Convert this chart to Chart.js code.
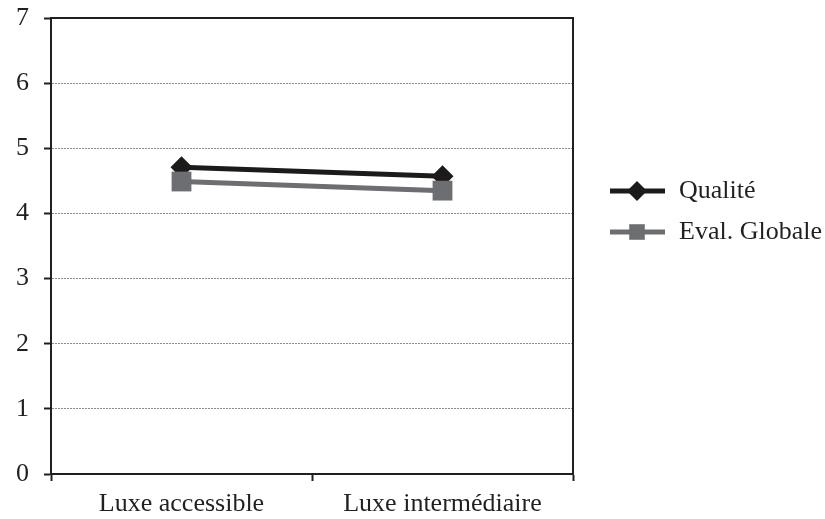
<!DOCTYPE html>
<html lang="fr">
<head>
    <meta charset="UTF-8">
    <title>Qualité / Eval. Globale</title>
    <style>
        body { margin: 0; background: #fff; }
        #wrap { width: 825px; height: 519px; position: relative; }
    </style>
    <script src="https://cdn.jsdelivr.net/npm/chart.js@4.4.0/dist/chart.umd.min.js"></script>
</head>
<body>
    <div id="wrap">
        <canvas id="line-chart" width="825" height="519"></canvas>
    </div>
    <script>
        // donnees
        const categories = ['Luxe accessible', 'Luxe intermédiaire'];
        const qualite = [4.71, 4.57];
        const evalGlobale = [4.49, 4.35];
        const yTicks = [0, 1, 2, 3, 4, 5, 6, 7];

        const FONT = '"Liberation Serif", "Times New Roman", serif';
        const INK = '#231f20';

        // cadre autour de la zone du graphique + legende a droite
        const framePlugin = {
            id: 'frame',
            afterDraw(chart) {
                const ctx = chart.ctx;
                const a = chart.chartArea;
                ctx.save();
                ctx.strokeStyle = INK;
                ctx.lineWidth = 2;
                ctx.beginPath();
                ctx.moveTo(a.left, a.top);
                ctx.lineTo(a.right, a.top);
                ctx.lineTo(a.right, a.bottom);
                ctx.stroke();

                // legende (Qualite en premier)
                const items = chart.data.datasets.slice().reverse();
                let y = 191;
                items.forEach(function (ds) {
                    ctx.strokeStyle = ds.borderColor;
                    ctx.lineWidth = ds.borderWidth;
                    ctx.beginPath();
                    ctx.moveTo(610, y);
                    ctx.lineTo(665, y);
                    ctx.stroke();
                    ctx.fillStyle = ds.backgroundColor;
                    Chart.helpers.drawPoint(ctx, {
                        pointStyle: ds.pointStyle,
                        rotation: 0,
                        radius: ds.legendRadius,
                        borderWidth: 0
                    }, 637, y);
                    ctx.fillStyle = INK;
                    ctx.font = '26px ' + FONT;
                    ctx.textBaseline = 'middle';
                    ctx.textAlign = 'left';
                    ctx.fillText(ds.label, 679, y);
                    y += 41;
                });
                ctx.restore();
            }
        };

        new Chart(document.getElementById('line-chart').getContext('2d'), {
            type: 'line',
            data: {
                labels: categories,
                // Eval. Globale en index 0 pour etre dessine par-dessus
                datasets: [{
                    label: 'Eval. Globale',
                    data: evalGlobale,
                    borderColor: '#6d6e71',
                    backgroundColor: '#6d6e71',
                    borderWidth: 5,
                    pointStyle: 'rect',
                    pointRadius: 14,
                    legendRadius: 11,
                    pointBorderWidth: 0,
                    fill: false
                }, {
                    label: 'Qualité',
                    data: qualite,
                    borderColor: '#1c1a1b',
                    backgroundColor: '#1c1a1b',
                    borderWidth: 5,
                    pointStyle: 'rectRot',
                    pointRadius: 11,
                    legendRadius: 10,
                    pointBorderWidth: 0,
                    fill: false
                }]
            },
            options: {
                responsive: false,
                animation: false,
                layout: {
                    padding: { top: 18, right: 252, left: 0, bottom: 0 }
                },
                plugins: {
                    legend: { display: false },
                    tooltip: { enabled: false }
                },
                scales: {
                    x: {
                        offset: true,
                        afterFit(scale) { scale.height = 45; },
                        grid: {
                            offset: true,
                            drawOnChartArea: false,
                            drawTicks: true,
                            tickLength: 7,
                            tickWidth: 2,
                            tickColor: INK
                        },
                        border: { display: true, color: INK, width: 2 },
                        ticks: {
                            color: INK,
                            font: { family: FONT, size: 26 },
                            padding: 8
                        }
                    },
                    y: {
                        min: 0,
                        max: 7,
                        afterFit(scale) {
                            scale.width = 51;
                            // le "7" peut deborder dans la marge du haut
                            scale.paddingTop = 0;
                            scale.paddingBottom = 0;
                        },
                        afterBuildTicks(scale) {
                            scale.ticks = yTicks.map(function (v) { return { value: v }; });
                        },
                        grid: {
                            color: function (c) {
                                return (c.tick.value === 0 || c.tick.value === 7) ? 'rgba(0,0,0,0)' : '#8c8c8c';
                            },
                            lineWidth: 1,
                            drawTicks: true,
                            tickLength: 7,
                            tickColor: INK,
                            tickWidth: 2,
                            tickBorderDash: []
                        },
                        border: { display: true, color: INK, width: 2, dash: [2, 1] },
                        ticks: {
                            color: INK,
                            font: { family: FONT, size: 26 },
                            padding: 15
                        }
                    }
                }
            },
            plugins: [framePlugin]
        });
    </script>
</body>
</html>
